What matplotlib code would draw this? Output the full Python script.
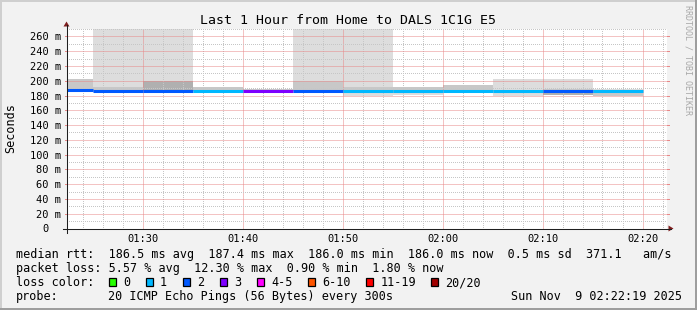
import matplotlib
matplotlib.use("Agg")
import matplotlib.pyplot as plt
import matplotlib.dates as mdates
from matplotlib.ticker import MultipleLocator
from matplotlib.patches import Rectangle, Polygon
from matplotlib.lines import Line2D
from matplotlib.transforms import Affine2D
from datetime import datetime, timedelta
import numpy as np

# ---------------- data ----------------
title = "Last 1 Hour from Home to DALS 1C1G E5"
y_label = "Seconds"
watermark = "RRDTOOL / TOBI OETIKER"
day = "2025-11-09"
window_start = "01:22:24"
window_minutes = 60
step_minutes = 5
step_end_times = ["01:25", "01:30", "01:35", "01:40", "01:45", "01:50",
                  "01:55", "02:00", "02:05", "02:10", "02:15", "02:20"]
median_rtt_ms = [187.4, 186.6, 186.6, 186.7, 186.4, 186.6,
                 186.7, 186.7, 186.7, 186.6, 186.3, 186.0]
lost_pings = [2, 2, 2, 1, 3, 2, 1, 1, 1, 1, 2, 1]
smoke_min_ms = [186.5, 184.5, 186.0, 186.0, 186.0, 186.0,
                179.4, 180.4, 186.0, 179.4, 181.2, 179.4]
smoke_max_ms = [202.0, 300.0, 300.0, 191.2, 189.5, 300.0,
                300.0, 191.2, 194.7, 202.9, 202.9, 189.3]
smoke_mid_lo_ms = [186.5, 186.0, 186.0, 186.0, 186.0, 186.0,
                   186.0, 184.0, 186.0, 186.0, 181.2, 179.4]
smoke_mid_hi_ms = [202.0, 191.2, 200.1, 191.2, 189.5, 200.1,
                   191.2, 191.2, 194.7, 187.0, 189.3, 188.0]
smoke_core_lo_ms = [np.nan, np.nan, 186.0, np.nan, np.nan, np.nan,
                    np.nan, np.nan, np.nan, np.nan, 181.2, np.nan]
smoke_core_hi_ms = [np.nan, np.nan, 199.3, np.nan, np.nan, np.nan,
                    np.nan, np.nan, np.nan, np.nan, 186.0, np.nan]
y_max_ms = 270.83
y_ticks_ms = [0, 20, 40, 60, 80, 100, 120, 140, 160, 180, 200, 220, 240, 260]
y_tick_labels = ["0  ", "20 m", "40 m", "60 m", "80 m", "100 m", "120 m", "140 m",
                 "160 m", "180 m", "200 m", "220 m", "240 m", "260 m"]
x_tick_labels = ["01:30", "01:40", "01:50", "02:00", "02:10", "02:20"]
rtt_avg, rtt_max, rtt_min, rtt_now, rtt_sd, rtt_ams = 186.5, 187.4, 186.0, 186.0, 0.5, 371.1
loss_avg, loss_max, loss_min, loss_now = 5.57, 12.30, 0.90, 1.80
loss_bins = ["0", "1", "2", "3", "4-5", "6-10", "11-19", "20/20"]
loss_bin_max = [0, 1, 2, 3, 5, 10, 19, 20]
probe_text = "20 ICMP Echo Pings (56 Bytes) every 300s"
timestamp = "Sun Nov  9 02:22:19 2025"

# ---------------- style ----------------
W, H = 697, 310
loss_colors = ["#26ff00", "#00b8ff", "#0059ff", "#7e00ff",
               "#ff00ff", "#ff5500", "#ff0000", "#a10000"]
BACK = "#f2f2f2"
SHADE_A = "#cfcfcf"
SHADE_B = "#9e9e9e"
GRID = "#c6c6c6"
MGRID = "#e88888"
AXIS = "#1f1f1f"
ARROW = "#801f1f"
SMOKE_OUT = "#dddddd"
SMOKE_MID = "#c8c8c8"
SMOKE_CORE = "#b0b0b0"
MONO = "DejaVu Sans Mono"

fig = plt.figure(figsize=(W / 100, H / 100), dpi=100, facecolor=BACK)
pix = Affine2D().scale(1.0 / W, -1.0 / H).translate(0, 1) + fig.transFigure

# frame shading
fig.patches.append(Rectangle((0, 0), W, 2, transform=pix, color=SHADE_A, lw=0))
fig.patches.append(Rectangle((0, 0), 2, H, transform=pix, color=SHADE_A, lw=0))
fig.patches.append(Rectangle((0, H - 2), W, 2, transform=pix, color=SHADE_B, lw=0))
fig.patches.append(Rectangle((W - 2, 0), 2, H, transform=pix, color=SHADE_B, lw=0))

x0, y0, xs, ys = 66.5, 228.5, 600, 200
ax = fig.add_axes([x0 / W, (H - y0) / H, xs / W, ys / H])
ax.set_facecolor("white")

t0 = datetime.fromisoformat(f"{day}T{window_start}")
ax.set_xlim(t0, t0 + timedelta(minutes=window_minutes))
ax.set_ylim(0, y_max_ms)

ends = [datetime.fromisoformat(f"{day}T{t}:00") for t in step_end_times]
starts = [e - timedelta(minutes=step_minutes) for e in ends]
sx = mdates.date2num(starts)
wdt = step_minutes / 1440.0

def band(lo, hi, color):
    lo = np.asarray(lo, float)
    hi = np.asarray(hi, float)
    m = ~np.isnan(lo)
    ax.bar(sx[m], hi[m] - lo[m], bottom=lo[m], width=wdt, align="edge",
           color=color, lw=0, zorder=1)

band(smoke_min_ms, smoke_max_ms, SMOKE_OUT)
band(smoke_mid_lo_ms, smoke_mid_hi_ms, SMOKE_MID)
band(smoke_core_lo_ms, smoke_core_hi_ms, SMOKE_CORE)

def loss_color(n):
    for mx, c in zip(loss_bin_max, loss_colors):
        if n <= mx:
            return c
    return loss_colors[-1]

ax.hlines(median_rtt_ms, sx, sx + wdt, colors=[loss_color(n) for n in lost_pings],
          lw=2.2, zorder=3)

# grid
ax.yaxis.set_major_locator(plt.FixedLocator(y_ticks_ms))
ax.yaxis.set_minor_locator(MultipleLocator(10))
ax.set_yticklabels(y_tick_labels)
ax.xaxis.set_major_locator(mdates.MinuteLocator(byminute=range(0, 60, 10)))
ax.xaxis.set_minor_locator(mdates.MinuteLocator(byminute=range(0, 60, 2)))
ax.xaxis.set_major_formatter(mdates.DateFormatter("%H:%M"))
ax.grid(which="minor", color=GRID, lw=0.72, linestyle=(0.5, (1, 1)))
ax.grid(which="major", color=MGRID, lw=0.72, linestyle=(0, (1, 1)))
ax.set_axisbelow(False)
ax.tick_params(which="both", length=0)
ax.tick_params(axis="y", pad=3.6, labelsize=7.5, labelcolor="black")
ax.tick_params(axis="x", pad=4.0, labelsize=7.5, labelcolor="black")
for lab in ax.get_xticklabels() + ax.get_yticklabels():
    lab.set_fontfamily(MONO)
for s in ax.spines.values():
    s.set_visible(False)

# small solid grid ticks beside the plot area (rrdtool style)
yt = ax.get_yaxis_transform()
for v in y_ticks_ms:
    ax.add_line(Line2D([-2 / xs, 0], [v, v], transform=yt, color=MGRID, lw=0.72,
                       clip_on=False))
    ax.add_line(Line2D([1, 1 + 2 / xs], [v, v], transform=yt, color=MGRID, lw=0.72,
                       clip_on=False))

# axes lines + arrows (rrdtool style)
fig.lines.append(Line2D([x0 - 4, x0 + xs + 4], [y0, y0], transform=pix, color=AXIS, lw=0.75))
fig.lines.append(Line2D([x0, x0], [y0 + 4, y0 - ys - 4], transform=pix, color=AXIS, lw=0.75))
fig.patches.append(Polygon([(x0 + xs + 2, y0 - 3), (x0 + xs + 2, y0 + 3), (x0 + xs + 7, y0)],
                           closed=True, transform=pix, color=ARROW, lw=0))
fig.patches.append(Polygon([(x0 - 3, y0 - ys - 2), (x0 + 3, y0 - ys - 2), (x0, y0 - ys - 7)],
                           closed=True, transform=pix, color=ARROW, lw=0))

# texts
fig.text(W / 2, 24, title, transform=pix, ha="center", va="baseline",
         fontsize=9.5, family=MONO)
fig.text(11, 128, y_label, transform=pix, ha="center", va="center", rotation=90,
         fontsize=8.5, family=MONO)
fig.text(688, 60, watermark, transform=pix, ha="center", va="center", rotation=270,
         fontsize=6, family=MONO, color="#a8a8a8")

LX, CW = 16, 7.1
line1 = (f"median rtt:  {rtt_avg:.1f} ms avg  {rtt_max:.1f} ms max  {rtt_min:.1f} ms min  "
         f"{rtt_now:.1f} ms now  {rtt_sd:.1f} ms sd  {rtt_ams:.1f}   am/s")
line2 = (f"packet loss: {loss_avg:.2f} % avg  {loss_max:.2f} % max  {loss_min:.2f} % min  "
         f"{loss_now:.2f} % now")
fs = 8.5
fig.text(LX, 258, line1, transform=pix, ha="left", va="baseline", fontsize=fs, family=MONO)
fig.text(LX, 272, line2, transform=pix, ha="left", va="baseline", fontsize=fs, family=MONO)
fig.text(LX, 286, "loss color:", transform=pix, ha="left", va="baseline", fontsize=fs, family=MONO)
pos = 13.1
for lab, col in zip(loss_bins, loss_colors):
    bx = LX + pos * CW
    fig.patches.append(Rectangle((bx, 278), 7, 7.5, transform=pix, facecolor=col,
                                 edgecolor="black", lw=0.9))
    fig.text(LX + (pos + 2.0) * CW, 286, lab, transform=pix, ha="left", va="baseline",
             fontsize=fs, family=MONO)
    pos += 2.0 + len(lab) + 2.2
fig.text(LX, 300, "probe:", transform=pix, ha="left", va="baseline", fontsize=fs, family=MONO)
fig.text(LX + 13 * CW, 300, probe_text, transform=pix, ha="left", va="baseline",
         fontsize=fs, family=MONO)
fig.text(682, 300, timestamp, transform=pix, ha="right", va="baseline", fontsize=fs, family=MONO)

fig.savefig("out.png", dpi=100, facecolor=BACK)
